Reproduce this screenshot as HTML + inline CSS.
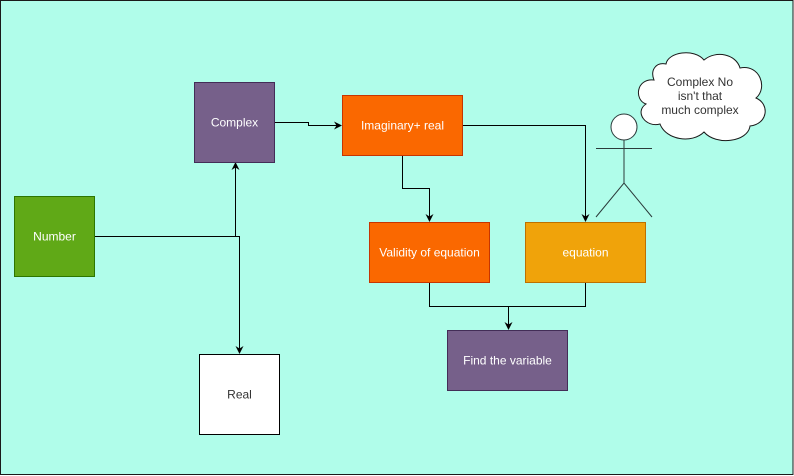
<!DOCTYPE html>
<html>
<head>
<meta charset="utf-8">
<style>
  html, body { margin: 0; padding: 0; background: #ffffff; }
  body { width: 794px; height: 476px; overflow: hidden; }
  svg { display: block; }
  text { font-family: "Liberation Sans", Arial, sans-serif; font-size: 12px; }
</style>
</head>
<body>
<svg width="794" height="476" viewBox="0 0 794 476" xmlns="http://www.w3.org/2000/svg">
  <defs>
    <marker id="arr" markerWidth="10" markerHeight="10" refX="8" refY="5" orient="auto" markerUnits="userSpaceOnUse">
      <path d="M1,1 L9,5 L1,9 L3.5,5 Z" fill="#000"/>
    </marker>
  </defs>

  <!-- background with border -->
  <rect x="0.5" y="0.5" width="792.5" height="474" fill="#b0fdea" stroke="#1a1a1a" stroke-width="1"/>

  <!-- connectors -->
  <g fill="none" stroke="#000" stroke-width="1">
    <!-- Number -> Complex -->
    <path d="M94.5,236.5 H235.5 V163" marker-end="url(#arr)"/>
    <!-- Number -> Real -->
    <path d="M235.5,236.5 H239.5 V353" marker-end="url(#arr)"/>
    <!-- Complex -> Imaginary -->
    <path d="M275,122.5 H308.5 V125.5 H341" marker-end="url(#arr)"/>
    <!-- Imaginary -> equation -->
    <path d="M463,125.5 H585.5 V221" marker-end="url(#arr)"/>
    <!-- Imaginary -> Validity -->
    <path d="M402.5,156 V188.5 H429.5 V221" marker-end="url(#arr)"/>
    <!-- Validity & equation -> Find -->
    <path d="M429.5,282 V306.5 H585.5 V282"/>
    <path d="M508.5,306.5 V329" marker-end="url(#arr)"/>
  </g>

  <!-- Number -->
  <rect x="14.5" y="196.5" width="80" height="80" fill="#60a917" stroke="#2d7600"/>
  <text x="54.5" y="240.5" text-anchor="middle" fill="#ffffff">Number</text>

  <!-- Complex -->
  <rect x="194.5" y="82.5" width="80" height="80" fill="#76608a" stroke="#432d57"/>
  <text x="234.5" y="126.5" text-anchor="middle" fill="#ffffff">Complex</text>

  <!-- Real -->
  <rect x="199.5" y="354.5" width="80" height="80" fill="#ffffff" stroke="#000000"/>
  <text x="239.5" y="398.5" text-anchor="middle" fill="#333333">Real</text>

  <!-- Imaginary+ real -->
  <rect x="342.5" y="95.5" width="120" height="60" fill="#fa6800" stroke="#c73500"/>
  <text x="402.5" y="129.5" text-anchor="middle" fill="#ffffff">Imaginary+ real</text>

  <!-- Validity of equation -->
  <rect x="369.5" y="222.5" width="120" height="60" fill="#fa6800" stroke="#c73500"/>
  <text x="429.5" y="256.5" text-anchor="middle" fill="#ffffff">Validity of equation</text>

  <!-- equation -->
  <rect x="525.5" y="222.5" width="120" height="60" fill="#f0a30a" stroke="#bd7000"/>
  <text x="585.5" y="256.5" text-anchor="middle" fill="#ffffff">equation</text>

  <!-- Find the variable -->
  <rect x="447.5" y="330.5" width="120" height="60" fill="#76608a" stroke="#432d57"/>
  <text x="507.5" y="364.5" text-anchor="middle" fill="#ffffff">Find the variable</text>

  <!-- Actor -->
  <g fill="none" stroke="#2b3b3b" stroke-width="1">
    <circle cx="624" cy="127" r="13" fill="#ffffff"/>
    <path d="M624,140 V183"/>
    <path d="M596,148.5 H652"/>
    <path d="M596,217 L624,183 L652,217"/>
  </g>

  <!-- Cloud -->
  <path d="M654,80
           C636,78 634,100 646,104
           C634,112 646,128 660,124
           C666,140 692,144 704,132
           C716,146 748,142 750,126
           C768,124 770,104 756,98
           C768,88 760,64 740,68
           C736,54 716,50 704,60
           C694,48 668,52 666,64
           C656,62 650,70 654,80 Z"
        fill="#ffffff" stroke="#1a1a1a" stroke-width="1"/>
  <text x="700" y="86" text-anchor="middle" fill="#333333">Complex No</text>
  <text x="700" y="100" text-anchor="middle" fill="#333333">isn't that</text>
  <text x="700" y="114" text-anchor="middle" fill="#333333">much complex</text>
</svg>
</body>
</html>
